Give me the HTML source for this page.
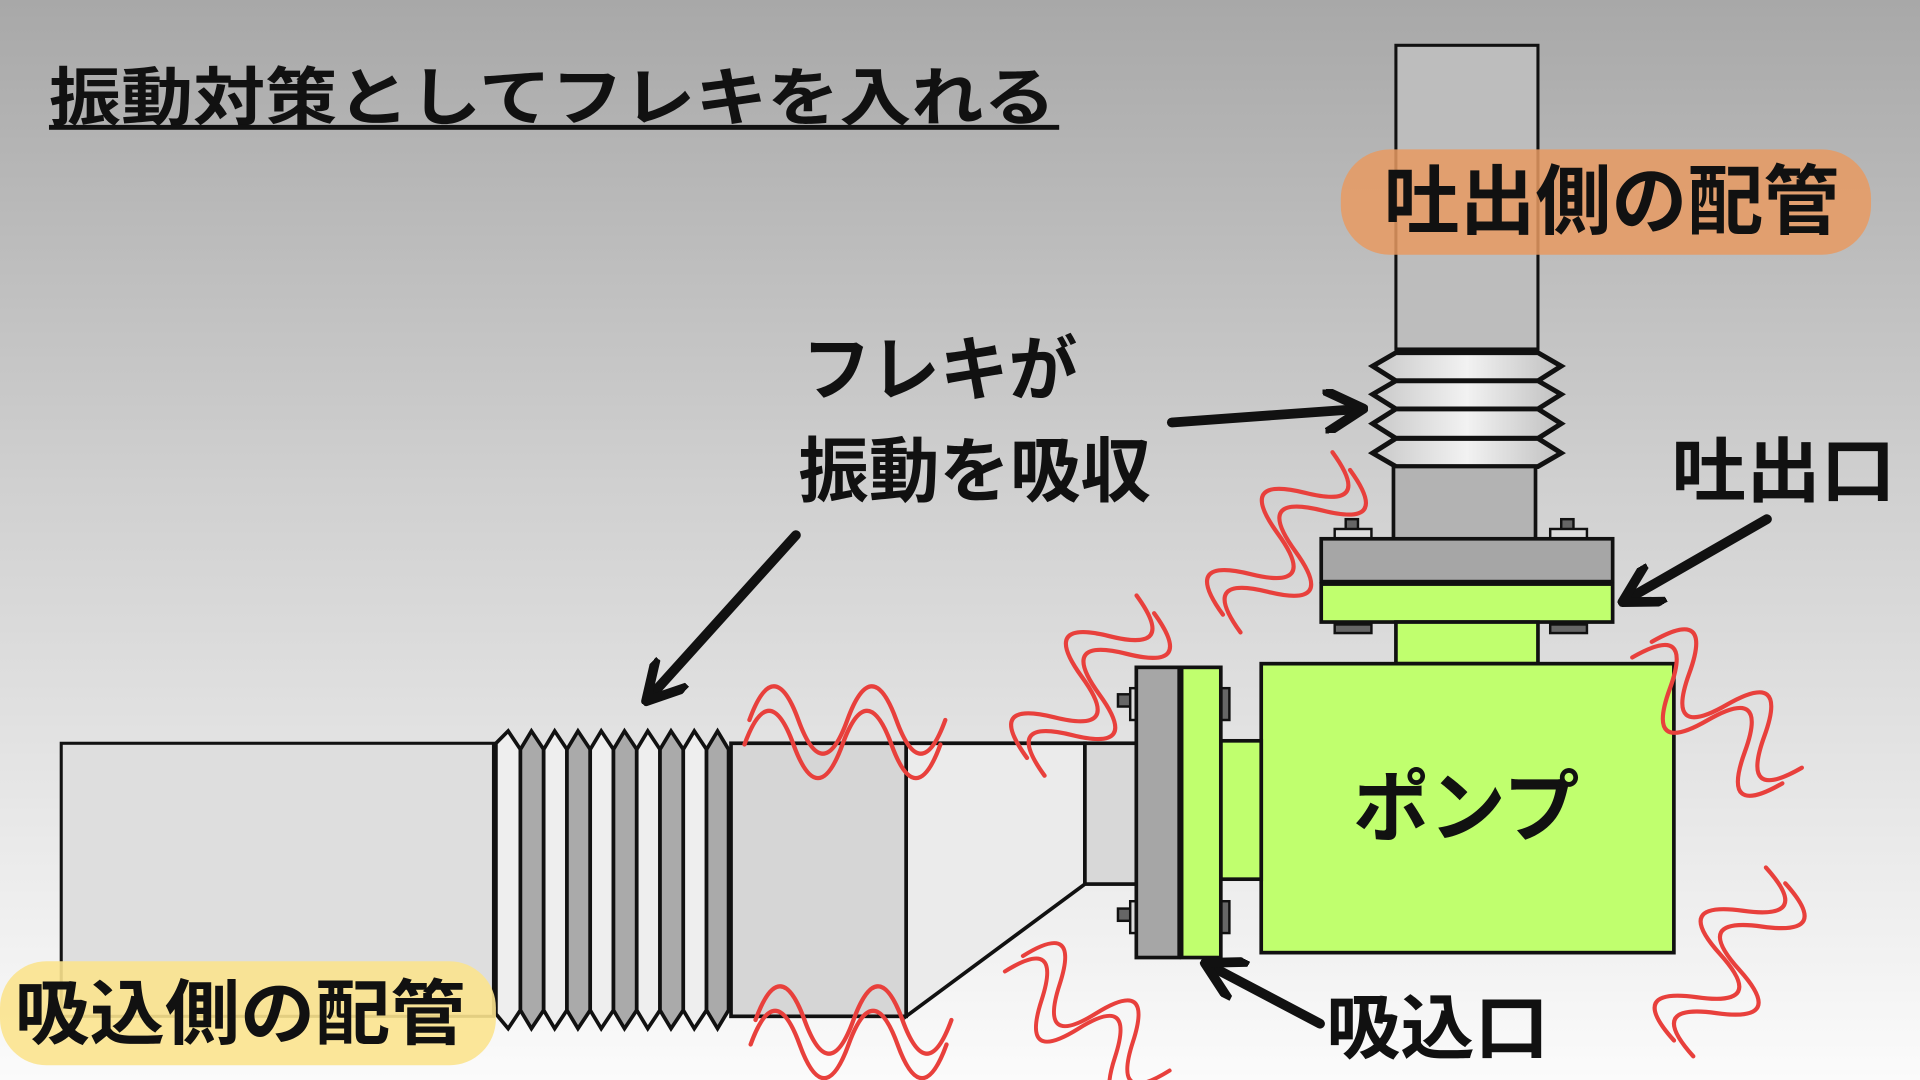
<!DOCTYPE html>
<html><head><meta charset="utf-8"><style>
html,body{margin:0;padding:0;width:1920px;height:1080px;overflow:hidden}
svg text{font-family:"Liberation Sans","Noto Sans CJK JP",sans-serif;font-weight:bold;fill:#111}
</style></head><body>
<svg width="1920" height="1080" viewBox="0 0 1568 882" xmlns="http://www.w3.org/2000/svg">
<defs>
<linearGradient id="bg" x1="0" y1="0" x2="0" y2="1">
<stop offset="0" stop-color="#a8a8a8"/><stop offset="0.45" stop-color="#d0d0d0"/><stop offset="1" stop-color="#fbfbfb"/></linearGradient>
<linearGradient id="fold" x1="0" y1="0" x2="1" y2="0">
<stop offset="0" stop-color="#c8c8c8"/><stop offset="0.5" stop-color="#f2f2f2"/><stop offset="1" stop-color="#c0c0c0"/></linearGradient>
<g id="w" fill="none" stroke="#e8403c" stroke-width="3.5" stroke-linecap="round">
<path d="M0 25 Q20 -30 40 25 T80 25 T120 25 T160 25"/>
<path d="M-4 45 Q16 -10 36 45 T76 45 T116 45 T156 45"/>
</g>
<marker id="ah" viewBox="0 0 10 10" refX="8" refY="5" markerWidth="4.5" markerHeight="4.5" orient="auto">
<path d="M0 0 L9 5 L0 10" fill="none" stroke="#111" stroke-width="2.2" stroke-linecap="round" stroke-linejoin="round"/></marker>
</defs>
<rect width="1568" height="882" fill="url(#bg)"/>
<text x="40" y="98" font-size="52" textLength="822" lengthAdjust="spacingAndGlyphs">振動対策としてフレキを入れる</text>
<rect x="40" y="102" width="825" height="4" fill="#111"/>

<rect x="1140" y="37" width="116" height="248" fill="#bdbdbd" stroke="#111" stroke-width="2.5"/>
<rect x="1095" y="122" width="433" height="86" rx="40" fill="#e89a62" opacity="0.85"/>
<text x="1130" y="186" font-size="62" textLength="372" lengthAdjust="spacingAndGlyphs">吐出側の配管</text>
<g stroke="#111" stroke-width="4" fill="url(#fold)" stroke-linejoin="miter">
<path d="M1140 288 L1256 288 L1275 299 L1256 311 L1140 311 L1121 299 Z"/>
<path d="M1140 311 L1256 311 L1275 322 L1256 334 L1140 334 L1121 322 Z"/>
<path d="M1140 334 L1256 334 L1275 346 L1256 358 L1140 358 L1121 346 Z"/>
<path d="M1140 358 L1256 358 L1275 370 L1256 381 L1140 381 L1121 370 Z"/>
</g>
<rect x="1138" y="381" width="116" height="60" fill="#b3b3b3" stroke="#111" stroke-width="3"/>
<g stroke="#111" stroke-width="2">
<rect x="1099" y="424" width="10" height="9" fill="#666"/><rect x="1090" y="432" width="30" height="8" fill="#ddd"/>
<rect x="1275" y="424" width="10" height="9" fill="#666"/><rect x="1266" y="432" width="30" height="8" fill="#ddd"/>
<rect x="1090" y="510" width="30" height="7" fill="#666"/><rect x="1266" y="510" width="30" height="7" fill="#666"/>
</g>
<rect x="1079" y="440" width="238" height="35" fill="#a6a6a6" stroke="#111" stroke-width="3"/>
<rect x="1079" y="477" width="238" height="31" fill="#c0ff6e" stroke="#111" stroke-width="3"/>
<rect x="1140" y="508" width="116" height="34" fill="#c0ff6e" stroke="#111" stroke-width="3"/>
<rect x="1030" y="542" width="337" height="236" fill="#c0ff6e" stroke="#111" stroke-width="3"/>
<text x="1105" y="682" font-size="64" textLength="185" lengthAdjust="spacingAndGlyphs">ポンプ</text>
<rect x="997" y="605" width="33" height="113" fill="#c0ff6e" stroke="#111" stroke-width="3"/>
<g stroke="#111" stroke-width="2">
<rect x="913" y="567" width="10" height="10" fill="#666"/><rect x="923" y="562" width="6" height="26" fill="#ddd"/>
<rect x="913" y="742" width="10" height="10" fill="#666"/><rect x="923" y="736" width="6" height="26" fill="#ddd"/>
<rect x="997" y="562" width="7" height="26" fill="#666"/><rect x="997" y="736" width="7" height="26" fill="#666"/>
</g>
<path d="M740 607 L886 607 L886 722 L740 830 Z" fill="#ebebeb" stroke="#111" stroke-width="3"/>
<rect x="886" y="607" width="42" height="115" fill="#d8d8d8" stroke="#111" stroke-width="3"/>
<rect x="928" y="545" width="35" height="237" fill="#a6a6a6" stroke="#111" stroke-width="3"/>
<rect x="965" y="545" width="32" height="237" fill="#c0ff6e" stroke="#111" stroke-width="3"/>
<rect x="597" y="607" width="143" height="223" fill="#d6d6d6" stroke="#111" stroke-width="3"/>
<rect x="50" y="607" width="353" height="223" fill="#dedede" stroke="#111" stroke-width="2.5"/>
<g stroke="#111" stroke-width="3" stroke-linejoin="miter">
<path d="M405 607 L415 597 L425 612 L425 825 L415 840 L405 828 Z" fill="#eee"/>
<path d="M425 612 L434 597 L444 612 L444 825 L434 840 L425 825 Z" fill="#aaa"/>
<path d="M444 612 L453 597 L463 612 L463 825 L453 840 L444 825 Z" fill="#eee"/>
<path d="M463 612 L472 597 L482 612 L482 825 L472 840 L463 825 Z" fill="#aaa"/>
<path d="M482 612 L491 597 L501 612 L501 825 L491 840 L482 825 Z" fill="#eee"/>
<path d="M501 612 L510 597 L520 612 L520 825 L510 840 L501 825 Z" fill="#aaa"/>
<path d="M520 612 L529 597 L539 612 L539 825 L529 840 L520 825 Z" fill="#eee"/>
<path d="M539 612 L548 597 L558 612 L558 825 L548 840 L539 825 Z" fill="#aaa"/>
<path d="M558 612 L567 597 L577 612 L577 825 L567 840 L558 825 Z" fill="#eee"/>
<path d="M577 612 L586 597 L595 612 L595 825 L586 840 L577 825 Z" fill="#aaa"/>
</g>
<rect x="0" y="785" width="405" height="85" rx="38" fill="#fbe38e" opacity="0.9"/>
<text x="12" y="848" font-size="58" textLength="368" lengthAdjust="spacingAndGlyphs">吸込側の配管</text>

<use href="#w" transform="translate(612,563)"/>
<use href="#w" transform="translate(617,808)"/>
<use href="#w" transform="translate(818,605) rotate(-56)"/>
<use href="#w" transform="translate(978,488) rotate(-56)"/>
<use href="#w" transform="translate(850,762) rotate(38) scale(0.95)"/>
<use href="#w" transform="translate(1365,505) rotate(40)"/>
<use href="#w" transform="translate(1345,838) rotate(-62)"/>

<text x="655" y="322" font-size="58" textLength="225" lengthAdjust="spacingAndGlyphs">フレキが</text>
<text x="652" y="405" font-size="58" textLength="288" lengthAdjust="spacingAndGlyphs">振動を吸収</text>
<g stroke="#111" stroke-width="8" stroke-linecap="round" fill="none">
<path d="M957 345 L1110 334" marker-end="url(#ah)"/>
<path d="M650 437 L530 570" marker-end="url(#ah)"/>
<path d="M1443 424 L1328 490" marker-end="url(#ah)"/>
<path d="M1078 836 L987 788" marker-end="url(#ah)"/>
</g>
<text x="1365" y="405" font-size="58" textLength="183" lengthAdjust="spacingAndGlyphs">吐出口</text>
<text x="1083" y="860" font-size="58" textLength="182" lengthAdjust="spacingAndGlyphs">吸込口</text>
</svg>
</body></html>
